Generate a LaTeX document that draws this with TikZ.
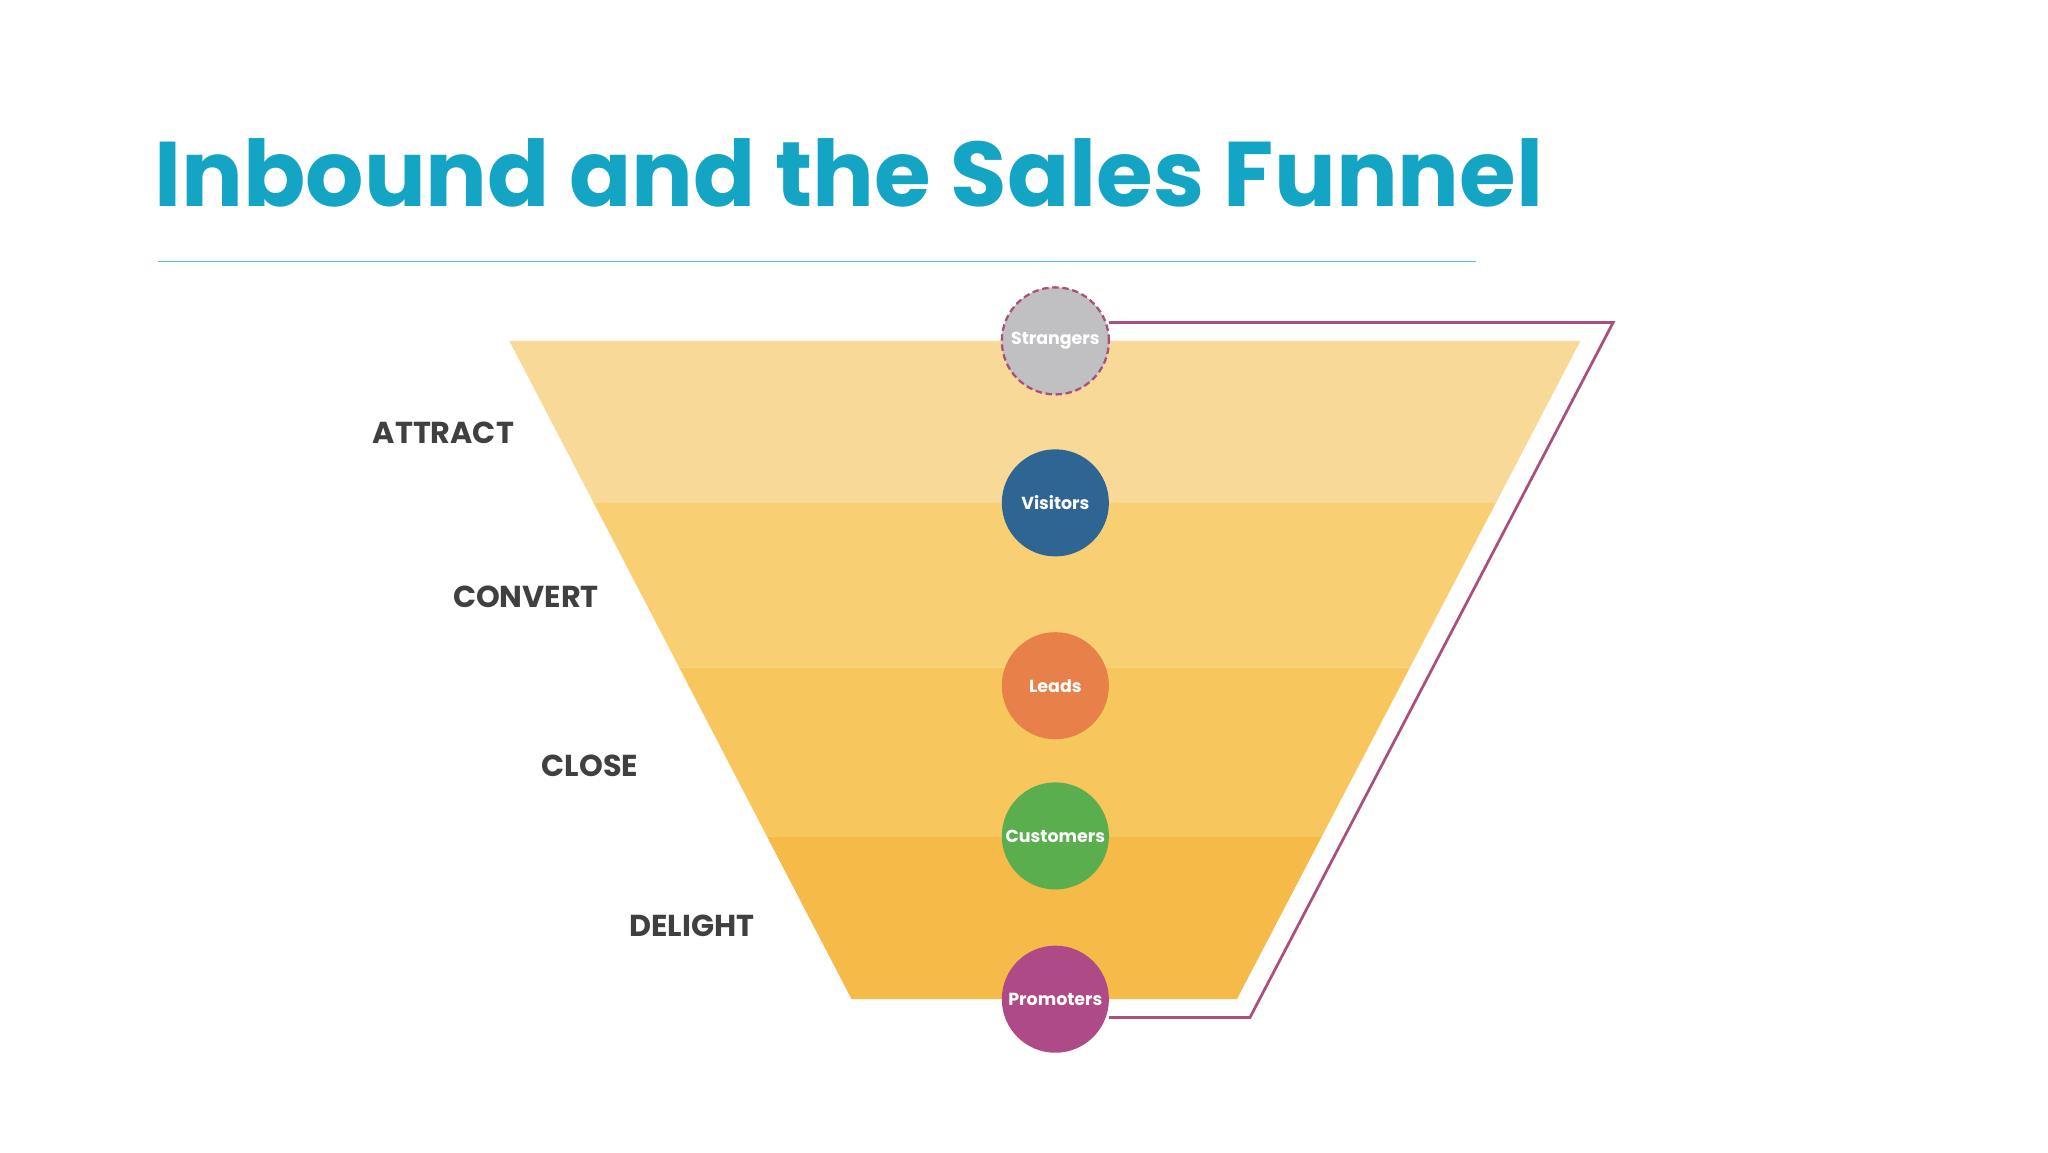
\documentclass[tikz,border=0pt]{standalone}
\usepackage{fontspec}
\setmainfont{Poppins}
\definecolor{ctitle}{RGB}{20,165,196}
\definecolor{cline}{RGB}{91,192,214}
\definecolor{band1}{RGB}{249,217,151}
\definecolor{band2}{RGB}{248,208,115}
\definecolor{band3}{RGB}{247,198,92}
\definecolor{band4}{RGB}{245,186,72}
\definecolor{cpurple}{RGB}{169,80,127}
\definecolor{cgray}{RGB}{192,191,193}
\definecolor{cpro}{RGB}{174,74,134}
\definecolor{cvis}{RGB}{47,101,147}
\definecolor{clea}{RGB}{232,128,74}
\definecolor{ccus}{RGB}{91,174,78}
\begin{document}
\begin{tikzpicture}[x=0.05cm,y=-0.05cm,
  circ/.style={circle,minimum size=4.1cm,inner sep=0pt,text=white,font=\fontsize{19}{20}\selectfont\bfseries},
  stage/.style={anchor=east,text=black!75,font=\fontsize{33}{36}\selectfont\bfseries}]
\useasboundingbox (0,0) rectangle (1568,882);
\fill[white] (0,0) rectangle (1568,882);
\node[anchor=base west,inner sep=0pt,text=ctitle,font=\fontsize{100}{110}\selectfont\bfseries] (title) at (118,158) {Inbound and the Sales Funnel};
\coordinate (la) at (121,200); \coordinate (lb) at (1130,200);
\draw[line width=1.2pt,cline] (la) -- (lb);
\fill[band1] (390,261) -- (1210,261) -- (1145.3,385) -- (454.5,385) -- cycle;
\fill[band2] (454.5,385) -- (1145.3,385) -- (1079.5,511) -- (520,511) -- cycle;
\fill[band3] (520,511) -- (1079.5,511) -- (1011.7,641) -- (587.5,641) -- cycle;
\fill[band4] (587.5,641) -- (1011.7,641) -- (947,765) -- (652,765) -- cycle;
\coordinate (p1) at (1235,247); \coordinate (p2) at (957,779);
\node[circ,fill=cgray] (str) at (808,261) {};
\node[circ,fill=cpro] (pro) at (808,765) {Promoters};
\draw[line width=3pt,cpurple,line join=miter] (str.east |- p1) -- (p1) -- (p2) -- (pro.east |- p2);
\node[circ,fill=cgray,draw=cpurple,line width=2.5pt,dash pattern=on 7pt off 4pt] (str2) at (808,261) {Strangers};
\node[circ,fill=cvis] (vis) at (808,385) {Visitors};
\node[circ,fill=clea] (lea) at (808,525) {Leads};
\node[circ,fill=ccus] (cus) at (808,640) {Customers};
\node[stage] (a) at (396,331) {ATTRACT};
\node[stage] (b) at (461,457) {CONVERT};
\node[stage] (c) at (491,586) {CLOSE};
\node[stage] (d) at (580,709) {DELIGHT};
\end{tikzpicture}
\end{document}
